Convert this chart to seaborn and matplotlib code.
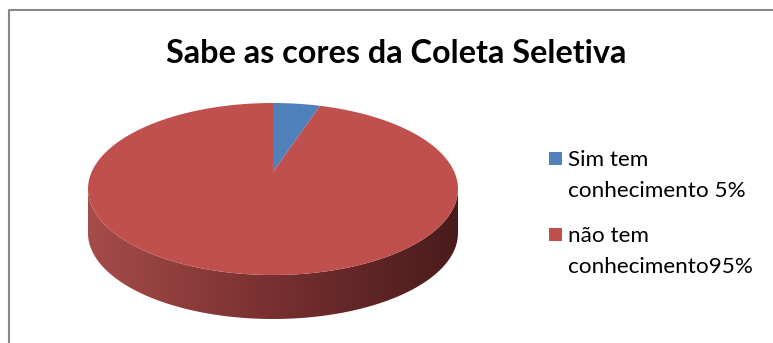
import numpy as np
import matplotlib
matplotlib.use("Agg")
import matplotlib.pyplot as plt
import seaborn as sns
from matplotlib.patches import Polygon, Rectangle
from matplotlib.colors import LinearSegmentedColormap

# ---- data ----
title = "Sabe as cores da Coleta Seletiva"
categories = ["Sim tem\nconhecimento 5%", "não tem\nconhecimento95%"]
values = [5, 95]
colors = ["#4F81BD", "#C0504D"]
side_colors = ["#A64C4A", "#7C3232", "#4A1B1B"]

sns.set_theme(style="white")
plt.rcParams['font.family'] = ['Lato', 'DejaVu Sans']

W, H = 773, 343
fig = plt.figure(figsize=(W / 100, H / 100), dpi=100)
ax = fig.add_axes([0, 0, 1, 1])

# pie geometry (pixel space)
cx, cy, a, b, k, depth = 273, 189, 185, 86, 0.2, 44


def proj(u, v):
    s = np.sqrt(1 - k * k)
    up = u * s / (1 + k * v)
    vp = (v + k) / (1 + k * v)
    return cx + a * up, cy - b * vp


# side (front half) with horizontal gradient
phi = np.linspace(np.pi, 2 * np.pi, 200)
top_x = cx + a * np.cos(phi)
top_y = cy - b * np.sin(phi)
side_x = np.concatenate([top_x, top_x[::-1]])
side_y = np.concatenate([top_y, top_y[::-1] + depth])
side_poly = Polygon(np.column_stack([side_x, side_y]), closed=True,
                    facecolor="none", edgecolor="none")
ax.add_patch(side_poly)
cmap = LinearSegmentedColormap.from_list("side", [(0, side_colors[0]), (0.45, side_colors[1]), (1, side_colors[2])])
grad = np.linspace(0, 1, 256).reshape(1, -1)
im = ax.imshow(grad, cmap=cmap, aspect="auto",
               extent=(cx - a, cx + a, cy + b + depth + 2, cy - 2),
               interpolation="bilinear")
im.set_clip_path(side_poly)

# top face slices
fr = np.array(values, dtype=float) / np.sum(values)
cum = np.concatenate([[0], np.cumsum(fr)])
for i in range(len(values)):
    th = np.linspace(2 * np.pi * cum[i], 2 * np.pi * cum[i + 1], 300)
    u = np.concatenate([[0], np.sin(th)])
    v = np.concatenate([[0], np.cos(th)])
    xs, ys = proj(u, v)
    ax.fill(xs, ys, color=colors[i], lw=0, zorder=3)

# title
ax.text(396, 63, title, ha="center", va="baseline", fontsize=23.3,
        fontweight="bold", color="black", zorder=5)

# legend
for i, lab in enumerate(categories):
    y0 = 166 + i * 76
    ax.add_patch(Rectangle((549, y0 - 14), 13, 13, facecolor=colors[i],
                           edgecolor="none", zorder=5))
    for j, line in enumerate(lab.split("\n")):
        ax.text(568, y0 + j * 31, line, ha="left", va="baseline",
                fontsize=16.2, color="black", zorder=5)

# frame
ax.plot([9, 9, W + 5], [H + 5, 10, 10], color="#878787", lw=1.5, zorder=6,
        solid_capstyle="butt")

ax.set_xlim(0, W)
ax.set_ylim(H, 0)
ax.axis("off")
fig.savefig("out.png", dpi=100)
